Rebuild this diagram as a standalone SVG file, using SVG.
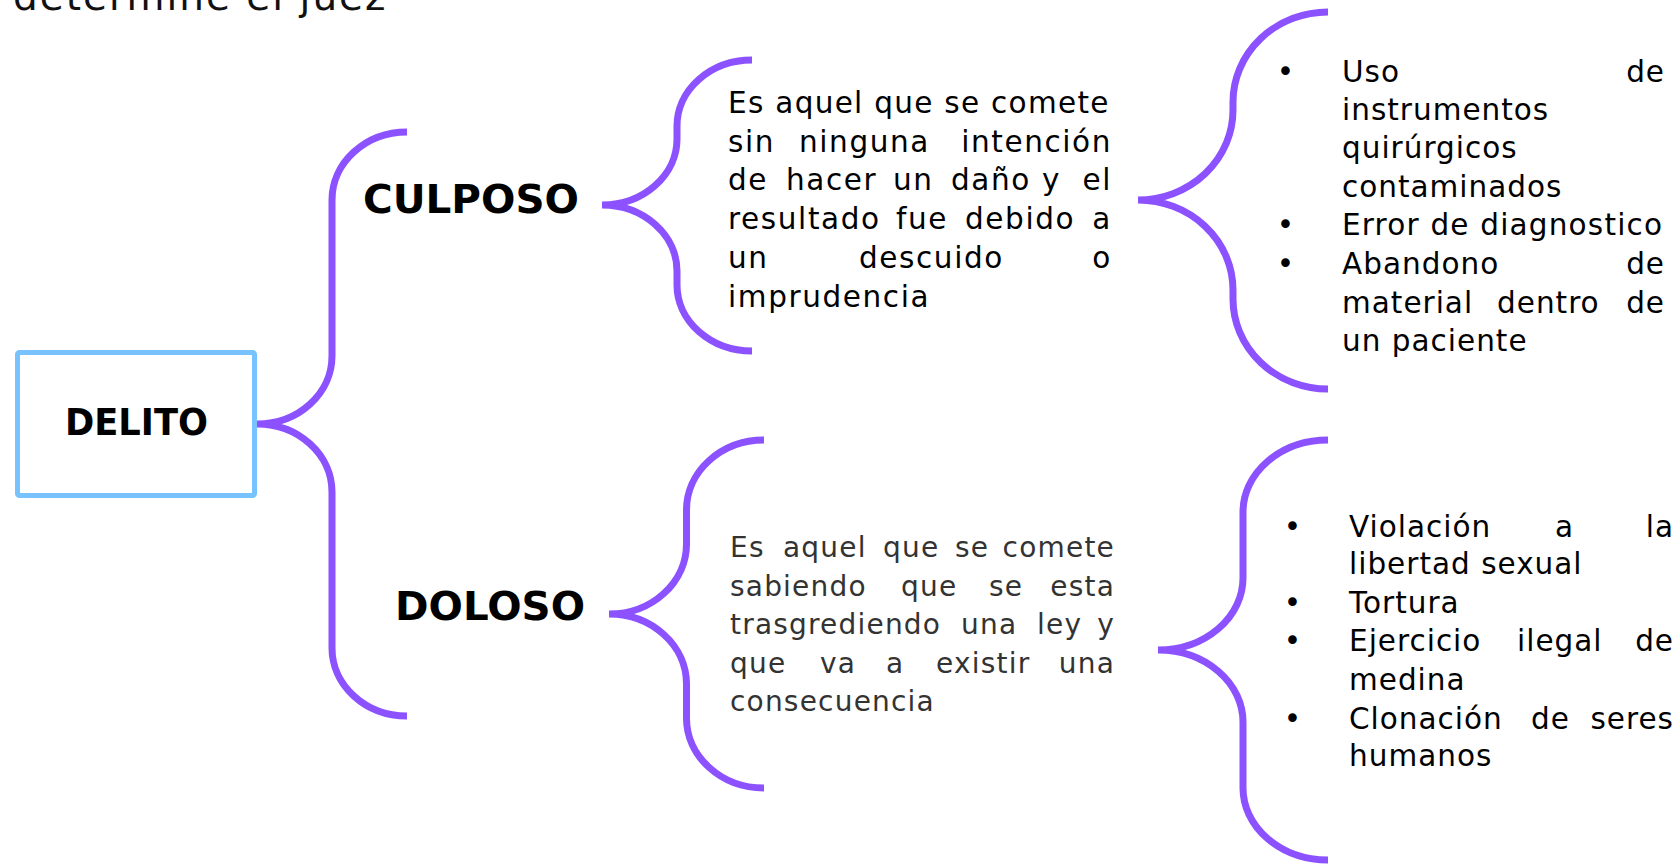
<svg xmlns="http://www.w3.org/2000/svg" width="1678" height="865" viewBox="0 0 1678 865">
<style>
.brace{fill:none;stroke:#8C52FF;stroke-width:7;stroke-linecap:butt}
.box{fill:#fff;stroke:#78C2FF;stroke-width:5}
.bold{font-family:"DejaVu Sans","Liberation Sans",sans-serif;font-weight:bold;fill:#000}
.para{font-family:"DejaVu Sans","Liberation Sans",sans-serif;font-size:29.5px;letter-spacing:1.6px;fill:#000}
.para2{font-family:"DejaVu Sans","Liberation Sans",sans-serif;font-size:28px;letter-spacing:1.2px;fill:#333}
.list{font-family:"DejaVu Sans","Liberation Sans",sans-serif;font-size:29.5px;letter-spacing:1px;fill:#000}
.end{text-anchor:end}
</style>
<rect width="1678" height="865" fill="#fff"/>
<g id="title-fragment">
<text x="13" y="10" font-family="DejaVu Sans, Liberation Sans, sans-serif" font-size="39" letter-spacing="2" fill="#111">determine el juez</text>
</g>
<g id="connectors">
<path class="brace" d="M 407 132 A 75 68 0 0 0 332 200 L 332 356 A 75 68 0 0 1 257 424 A 75 68 0 0 1 332 492 L 332 648 A 75 68 0 0 0 407 716"/>
<path class="brace" d="M 752 60 A 75 66 0 0 0 677 126 L 677 139 A 75 66 0 0 1 602 205 A 75 66 0 0 1 677 271 L 677 285 A 75 66 0 0 0 752 351"/>
<path class="brace" d="M 764 440 A 77.5 70 0 0 0 686.5 510 L 686.5 544 A 77.5 70 0 0 1 609 614 A 77.5 70 0 0 1 686.5 684 L 686.5 718 A 77.5 70 0 0 0 764 788"/>
<path class="brace" d="M 1328 12 A 95 90 0 0 0 1233 102 L 1233 110 A 95 90 0 0 1 1138 200 A 95 90 0 0 1 1233 290 L 1233 299 A 95 90 0 0 0 1328 389"/>
<path class="brace" d="M 1328 440 A 85 72 0 0 0 1243 512 L 1243 578 A 85 72 0 0 1 1158 650 A 85 72 0 0 1 1243 722 L 1243 788 A 85 72 0 0 0 1328 860"/>
</g>
<g id="delito">
<rect class="box" x="17.5" y="352.5" width="237" height="143" rx="2"/>
<text class="bold" x="136.5" y="435" font-size="37" text-anchor="middle" textLength="143" lengthAdjust="spacingAndGlyphs">DELITO</text>
</g>
<g id="culposo">
<text class="bold" x="363" y="213" font-size="39" textLength="216" lengthAdjust="spacingAndGlyphs">CULPOSO</text>
</g>
<g id="doloso">
<text class="bold" x="395" y="620" font-size="39" textLength="190" lengthAdjust="spacingAndGlyphs">DOLOSO</text>
</g>
<g id="culposo-definicion">
<text class="para" x="728" y="113" textLength="382" lengthAdjust="spacing" letter-spacing="0">Es aquel que se comete</text>
<text class="para" y="152"><tspan x="728">sin</tspan><tspan x="799">ninguna</tspan><tspan x="1112" class="end">intención</tspan></text>
<text class="para" y="190"><tspan x="728">de</tspan><tspan x="786">hacer</tspan><tspan x="893">un</tspan><tspan x="951">daño</tspan><tspan x="1042">y</tspan><tspan x="1112" class="end">el</tspan></text>
<text class="para" y="228.5"><tspan x="728">resultado</tspan><tspan x="896">fue</tspan><tspan x="965">debido</tspan><tspan x="1112" class="end">a</tspan></text>
<text class="para" y="268"><tspan x="728">un</tspan><tspan x="859">descuido</tspan><tspan x="1112" class="end">o</tspan></text>
<text class="para" y="306.5" x="728">imprudencia</text>
</g>
<g id="doloso-definicion">
<text class="para2" y="557"><tspan x="730">Es</tspan><tspan x="783">aquel</tspan><tspan x="883">que</tspan><tspan x="955">se</tspan><tspan x="1115" class="end">comete</tspan></text>
<text class="para2" y="596"><tspan x="730">sabiendo</tspan><tspan x="901">que</tspan><tspan x="989">se</tspan><tspan x="1115" class="end">esta</tspan></text>
<text class="para2" y="634"><tspan x="730">trasgrediendo</tspan><tspan x="961">una</tspan><tspan x="1037">ley</tspan><tspan x="1115" class="end">y</tspan></text>
<text class="para2" y="673"><tspan x="730">que</tspan><tspan x="820">va</tspan><tspan x="886">a</tspan><tspan x="936">existir</tspan><tspan x="1115" class="end">una</tspan></text>
<text class="para2" y="711" x="730">consecuencia</text>
</g>
<g id="culposo-ejemplos">
<text class="list" x="1286" y="82" text-anchor="middle">•</text>
<text class="list" y="82"><tspan x="1342">Uso</tspan><tspan x="1665" class="end">de</tspan></text>
<text class="list" x="1342" y="119.5">instrumentos</text>
<text class="list" x="1342" y="158">quirúrgicos</text>
<text class="list" x="1342" y="197">contaminados</text>
<text class="list" x="1286" y="235" text-anchor="middle">•</text>
<text class="list" x="1342" y="235" textLength="321">Error de diagnostico</text>
<text class="list" x="1286" y="274" text-anchor="middle">•</text>
<text class="list" y="274"><tspan x="1342">Abandono</tspan><tspan x="1665" class="end">de</tspan></text>
<text class="list" y="312.5"><tspan x="1342">material</tspan><tspan x="1497">dentro</tspan><tspan x="1665" class="end">de</tspan></text>
<text class="list" x="1342" y="351">un paciente</text>
</g>
<g id="doloso-ejemplos">
<text class="list" x="1293" y="536.5" text-anchor="middle">•</text>
<text class="list" y="536.5"><tspan x="1349">Violación</tspan><tspan x="1555">a</tspan><tspan x="1674" class="end">la</tspan></text>
<text class="list" x="1349" y="574">libertad sexual</text>
<text class="list" x="1293" y="612.5" text-anchor="middle">•</text>
<text class="list" x="1349" y="612.5">Tortura</text>
<text class="list" x="1293" y="651" text-anchor="middle">•</text>
<text class="list" y="651"><tspan x="1349">Ejercicio</tspan><tspan x="1517">ilegal</tspan><tspan x="1674" class="end">de</tspan></text>
<text class="list" x="1349" y="689.5">medina</text>
<text class="list" x="1293" y="728.5" text-anchor="middle">•</text>
<text class="list" y="728.5"><tspan x="1349">Clonación</tspan><tspan x="1531">de</tspan><tspan x="1674" class="end">seres</tspan></text>
<text class="list" x="1349" y="766">humanos</text>
</g>
</svg>
